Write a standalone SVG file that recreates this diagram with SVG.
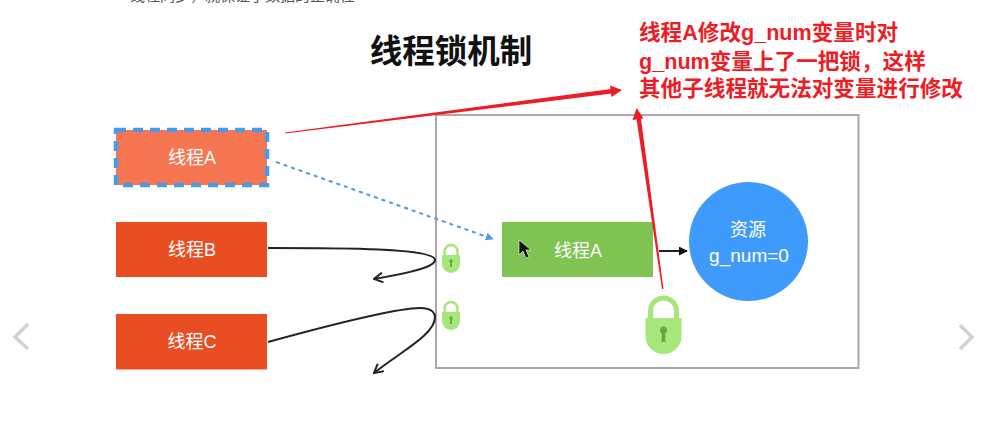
<svg xmlns="http://www.w3.org/2000/svg" width="988" height="439" viewBox="0 0 988 439">
<style>
text{font-family:"Noto Sans CJK SC","Liberation Sans",sans-serif}
.w{fill:#fff;font-size:18px;text-anchor:middle;font-family:"Liberation Sans","Noto Sans CJK SC",sans-serif}
.r{fill:#ee1c25;font-size:21.6px;font-weight:700;font-family:"Liberation Sans","Noto Sans CJK SC",sans-serif}
.k{fill:none;stroke:#222;stroke-width:2}
.ch{fill:none;stroke:#d2d2d2;stroke-width:3.500}
</style>
<defs>
<g id="lock">
<path d="M-13 24V15A13 13 0 0 1 13 15V24" fill="none" stroke="#a6e67a" stroke-width="5"/>
<path d="M-18 22H18V40A18 18 0 0 1 -18 40Z" fill="#a6e67a"/>
<circle cx="0" cy="34" r="3.500" fill="#62a83f"/><rect x="-1.800" y="34" width="3.600" height="12" fill="#62a83f"/>
</g>
<marker id="ab" viewBox="0 0 10 10" refX="9" refY="5" markerWidth="8" markerHeight="8" markerUnits="userSpaceOnUse" orient="auto"><path d="M0 0L10 5L0 10Z" fill="#4a9ae8"/></marker>
<marker id="ak" viewBox="0 0 10 10" refX="9" refY="5" markerWidth="9" markerHeight="9" markerUnits="userSpaceOnUse" orient="auto"><path d="M0 0L10 5L0 10Z" fill="#111"/></marker>
<marker id="ao" viewBox="0 0 10 10" refX="9" refY="5" markerWidth="11" markerHeight="11" markerUnits="userSpaceOnUse" orient="auto"><path d="M1 0.500L9 5L1 9.500" fill="none" stroke="#222" stroke-width="1.800"/></marker>
</defs>
<rect width="988" height="439" fill="#fff"/>
<text x="130" y="1" font-size="15" fill="#555" style="font-family:'Noto Sans CJK SC',sans-serif">线程同步，就保证了数据的正确性</text>
<text id="title" x="451" y="63" font-size="32.500" font-weight="700" text-anchor="middle" fill="#111">线程锁机制</text>
<rect id="box" x="436" y="115" width="422.500" height="253" fill="#fff" stroke="#aaa" stroke-width="2"/>
<g id="threadA"><rect x="116" y="130" width="151" height="55" fill="#f77652" stroke="#4a9ae8" stroke-width="4.500" stroke-dasharray="10 7"/><text class="w" x="192" y="164">线程A</text></g>
<g id="threadB"><rect x="116" y="222" width="151" height="55" fill="#e94e22"/><text class="w" x="192" y="256">线程B</text></g>
<g id="threadC"><rect x="116" y="314" width="151" height="55.500" fill="#e94e22"/><text class="w" x="192" y="348">线程C</text></g>
<g id="threadA2"><rect x="502" y="222" width="151" height="55" fill="#7fc352"/><text class="w" x="578" y="257">线程A</text></g>
<g id="resource"><circle cx="748.500" cy="241.500" r="59.500" fill="#3f9bfb"/><text class="w" x="748" y="236">资源</text><text class="w" style="font-size:19px" x="749" y="262">g_num=0</text></g>
<g id="lock1" transform="translate(451,244) scale(.5)"><use href="#lock"/></g>
<g id="lock2" transform="translate(451,301) scale(.5)"><use href="#lock"/></g>
<g id="lock3" transform="translate(663.500,296)"><use href="#lock"/></g>
<path d="M519 240L519 255L523 251L526 258L529 257L526 250L531 250Z" fill="#111" stroke="#fff" stroke-width=".6"/>
<g id="connectors">
<path d="M276 162L493 239" fill="none" stroke="#4a9ae8" stroke-width="2" stroke-dasharray="4 4" marker-end="url(#ab)"/>
<path class="k" d="M659 251H687" marker-end="url(#ak)"/>
<path class="k" d="M268 248C340 248 435 248 435 260C435 267 410 273 374 279" marker-end="url(#ao)"/>
<path class="k" d="M268 342C330 325 395 308 420 308C433 308 435 314 435 317C435 335 400 352 374 373" marker-end="url(#ao)"/>
<path d="M285 132.600L285 133.400L612 93.500L611 89Z" fill="#ee1c25"/>
<path d="M622 90L610 85.500L611.500 97Z" fill="#ee1c25"/>
<path d="M662 289L663.500 289L641 119L636.500 119Z" fill="#ee1c25"/>
<path d="M636.700 108L632.500 120L643.500 118.500Z" fill="#ee1c25"/>
</g>
<g id="note">
<text class="r" x="639" y="40">线程A修改g_num变量时对</text>
<text class="r" x="639" y="69">g_num变量上了一把锁，这样</text>
<text class="r" x="639" y="96">其他子线程就无法对变量进行修改</text>
</g>
<path class="ch" d="M28 324L15 337L28 349"/>
<path class="ch" d="M960 325L972 337L960 349"/>
</svg>
